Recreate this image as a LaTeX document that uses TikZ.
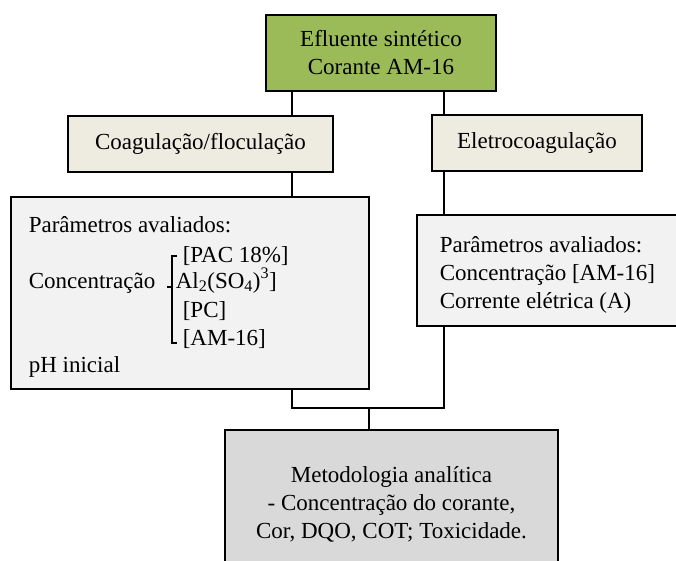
\documentclass[tikz,border=0pt]{standalone}
\usepackage{fontspec}
\setmainfont{Liberation Serif}
\usepackage{tikz}
\usetikzlibrary{calc}
\definecolor{boxGreen}{HTML}{9BBB59}
\definecolor{boxBeige}{HTML}{EEECE1}
\definecolor{boxLight}{HTML}{F2F2F2}
\definecolor{boxGray}{HTML}{D9D9D9}
\tikzset{every picture/.style={line width=1.6pt}}

\begin{document}
\begin{tikzpicture}[x=1pt, y=-1pt, font=\fontsize{23}{28}\selectfont,
            box/.style={draw, inner sep=0pt, align=center},
            txt/.style={anchor=base west, inner sep=0pt}]
            \useasboundingbox (0,0) rectangle (676,560);
            \node[box, fill=boxGreen, minimum width=230pt, minimum height=76pt] (efl) at (381,53) {Efluente sintético\\Corante AM-16};
            \node[box, fill=boxBeige, minimum width=265pt, minimum height=56pt] (coag) at (200.5,144) {Coagulação/floculação};
            \node[box, fill=boxBeige, minimum width=210pt, minimum height=56pt] (eletro) at (537,143) {Eletrocoagulação};
            \node[box, fill=boxLight, minimum width=358pt, minimum height=192pt] (parc) at (190,293) {};
            \node[box, fill=boxLight, minimum width=267pt, minimum height=111pt] (pare) at (550.5,270.5) {};
            \node[box, fill=boxGray, minimum width=333pt, minimum height=148pt] (metodo) at (391.5,504) {Metodologia analítica\\- Concentração do corante,\\Cor, DQO, COT; Toxicidade.};

            \coordinate (jl) at (292,0);
            \coordinate (jr) at (444,0);
            \coordinate (jm) at (369,408);

            \node[txt] (pc1) at (28,232) {Parâmetros avaliados:};
            \node[txt] (pc2) at (28,288) {Concentração};
            \node[txt] (pac) at (182,262) {[PAC 18\%]};
            \node[txt] (al) at (175,288) {Al\textsubscript{2}(SO\textsubscript{4})\textsuperscript{3}]};
            \node[txt] (pcc) at (182,317) {[PC]};
            \node[txt] (am) at (182,345) {[AM-16]};
            \node[txt] (ph) at (28,372) {pH inicial};
            \draw (177,256) -- (172,256) -- (172,343) -- (177,343);
            \draw (172,287) -- (167,287);

            \node[txt] (pe1) at (439,252) {Parâmetros avaliados:};
            \node[txt] (pe2) at (439,280) {Concentração [AM-16]};
            \node[txt] (pe3) at (439,308) {Corrente elétrica (A)};

            \draw (efl.south -| jl) -- (coag.north -| jl);
            \draw (efl.south -| jr) -- (eletro.north -| jr);
            \draw (coag.south -| jl) -- (parc.north -| jl);
            \draw (eletro.south -| jr) -- (pare.north -| jr);
            \draw (parc.south -| jl) |- (jm) -| (pare.south -| jr);
            \draw (jm) -- (metodo.north -| jm);
        \end{tikzpicture}
\end{document}
